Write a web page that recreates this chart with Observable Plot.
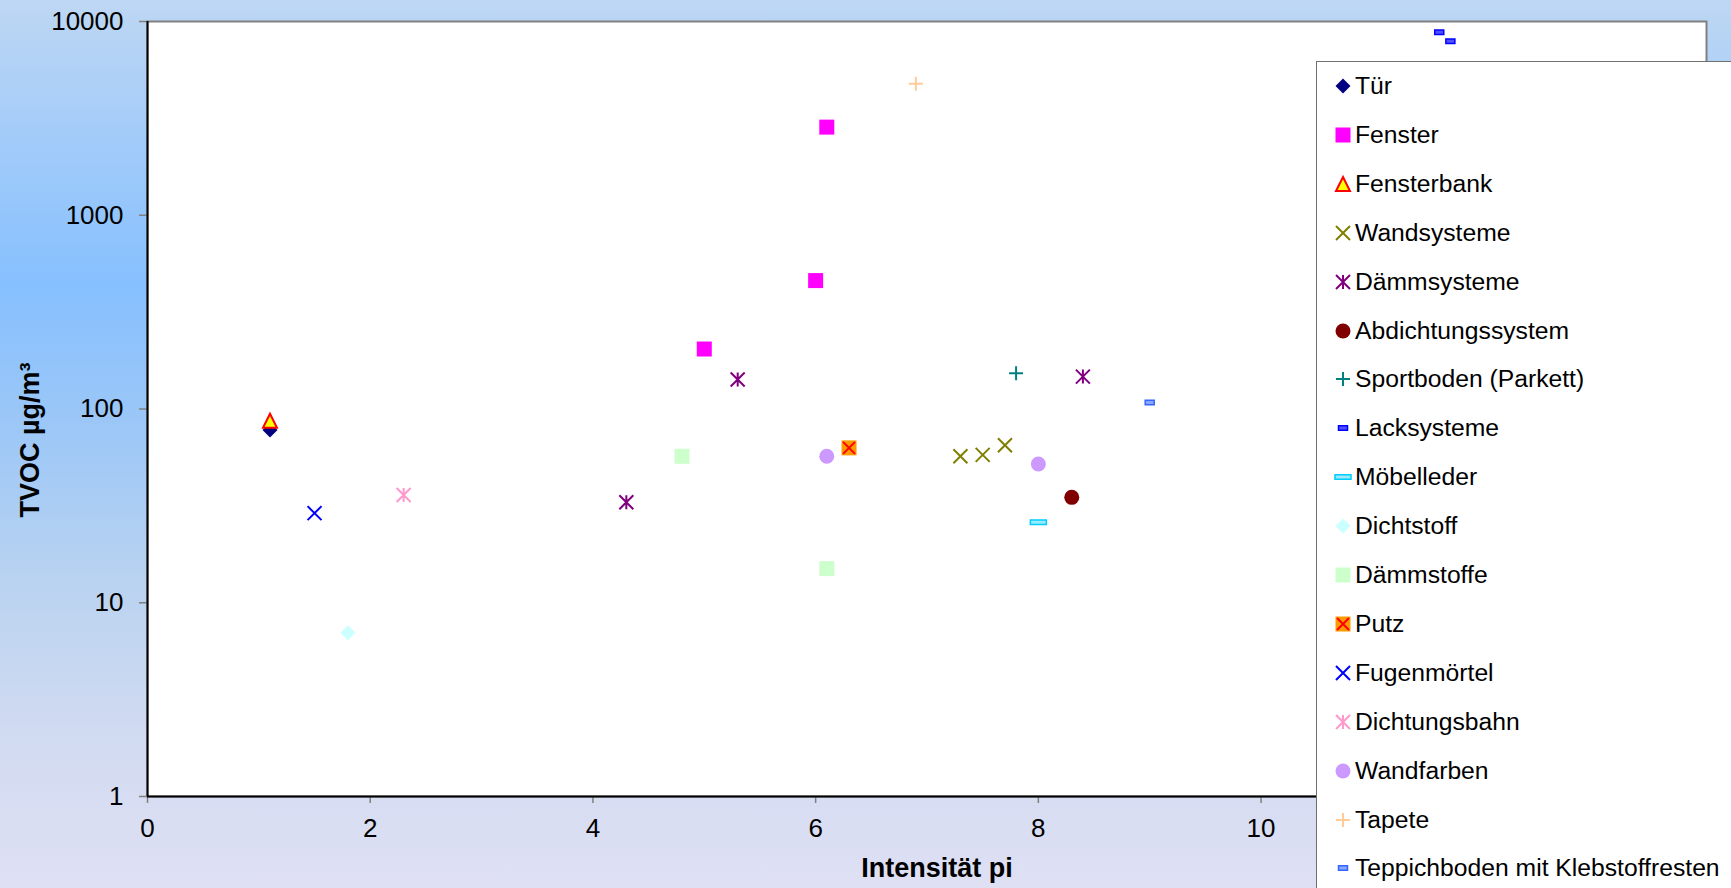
<!DOCTYPE html>
<html><head><meta charset="utf-8">
<script src="https://cdn.jsdelivr.net/npm/d3@7"></script>
<script src="https://cdn.jsdelivr.net/npm/@observablehq/plot@0.6"></script>
<style>
html,body{margin:0;padding:0;overflow:hidden;}
#wrap{position:relative;width:1731px;height:888px;overflow:hidden;
  background:linear-gradient(to bottom,#bed7f3 0%,#a2cbf9 16%,#86c0fe 32%,#9cc7f7 48%,#bad3f0 66%,#d0daf1 82%,#dfe0f4 100%);
  font-family:"Liberation Sans",Arial,sans-serif;}
#chart svg{display:block;overflow:visible;}
#legend{position:absolute;left:1316px;top:61px;width:480px;height:900px;background:#fff;border:1.5px solid #707070;box-sizing:border-box;}
.item{position:absolute;left:14px;height:30px;display:flex;align-items:center;font-size:24.7px;color:#000;white-space:nowrap;}
.item svg{display:block;margin-right:0px;}
</style></head>
<body>
<div id="wrap"><div id="chart"></div><div id="legend"></div></div>
<script>
// ---- data ----
const categories = ["Tür","Fenster","Fensterbank","Wandsysteme","Dämmsysteme","Abdichtungssystem",
  "Sportboden (Parkett)","Lacksysteme","Möbelleder","Dichtstoff","Dämmstoffe","Putz","Fugenmörtel",
  "Dichtungsbahn","Wandfarben","Tapete","Teppichboden mit Klebstoffresten"];
const xValues = [[1.1],[5.0,6.0,6.1],[1.1],[7.3,7.5,7.7],[4.3,5.3,8.4],[8.3],[7.8],[11.6,11.7],[8.0],[1.8],
  [4.8,6.1],[6.3],[1.5],[2.3],[6.1,8.0],[6.9],[9.0]];
const yValues = [[78],[204,460,2850],[87],[57,58,65],[33,142,147],[35],[153],[8800,7900],[26],[7],
  [57,15],[63],[29],[36],[57,52],[4770],[108]];
const xTicks = [0,2,4,6,8,10,12,14];
const yTicks = [1,10,100,1000,10000];
const xTitle = ["Intensität pi"];
const yTitle = ["TVOC µg/m³"];

// ---- symbols & styles ----
const R = s => Math.sqrt(s/Math.PI);
const SYM = {
  diamond:{draw(c,s){const r=R(s);c.moveTo(0,-r);c.lineTo(r,0);c.lineTo(0,r);c.lineTo(-r,0);c.closePath();}},
  square:{draw(c,s){const r=R(s);c.rect(-r,-r,2*r,2*r);}},
  triangle:{draw(c,s){const r=R(s);c.moveTo(0,-r);c.lineTo(r,r);c.lineTo(-r,r);c.closePath();}},
  times:{draw(c,s){const r=R(s);c.moveTo(-r,-r);c.lineTo(r,r);c.moveTo(r,-r);c.lineTo(-r,r);}},
  star:{draw(c,s){const r=R(s);c.moveTo(-r,-r);c.lineTo(r,r);c.moveTo(r,-r);c.lineTo(-r,r);c.moveTo(0,-r);c.lineTo(0,r);}},
  plus:{draw(c,s){const r=R(s);c.moveTo(-r,0);c.lineTo(r,0);c.moveTo(0,-r);c.lineTo(0,r);}},
  circle:{draw(c,s){const r=R(s);c.moveTo(r,0);c.arc(0,0,r,0,2*Math.PI);}},
  dash:{draw(c,s){const r=R(s);c.rect(-r,-r*0.5,2*r,r);}},
  longdash:{draw(c,s){const r=R(s);c.rect(-r,-r*0.28,2*r,r*0.56);}}
};
const styles = {
  "Tür":[{symbol:"diamond",r:7.5,fill:"#000080"}],
  "Fenster":[{symbol:"square",r:7.5,fill:"#ff00ff"}],
  "Fensterbank":[{symbol:"triangle",r:7,fill:"#ffff00",stroke:"#ff0000",sw:2}],
  "Wandsysteme":[{symbol:"times",r:7,stroke:"#808000",sw:2}],
  "Dämmsysteme":[{symbol:"star",r:7,stroke:"#800080",sw:2}],
  "Abdichtungssystem":[{symbol:"circle",r:7.5,fill:"#800000"}],
  "Sportboden (Parkett)":[{symbol:"plus",r:7,stroke:"#008080",sw:2}],
  "Lacksysteme":[{symbol:"dash",r:4.5,fill:"#5050ff",stroke:"#0000ff",sw:1.5}],
  "Möbelleder":[{symbol:"longdash",r:8,fill:"#99ebff",stroke:"#00ccff",sw:1.5}],
  "Dichtstoff":[{symbol:"diamond",r:7.5,fill:"#ccffff"}],
  "Dämmstoffe":[{symbol:"square",r:7.5,fill:"#ccffcc"}],
  "Putz":[{symbol:"square",r:7.5,fill:"#ff9900"},{symbol:"times",r:6,stroke:"#ff0000",sw:2}],
  "Fugenmörtel":[{symbol:"times",r:7,stroke:"#0000ff",sw:2}],
  "Dichtungsbahn":[{symbol:"star",r:7,stroke:"#ff99cc",sw:2}],
  "Wandfarben":[{symbol:"circle",r:7.5,fill:"#cc99ff"}],
  "Tapete":[{symbol:"plus",r:7,stroke:"#ffcc99",sw:2}],
  "Teppichboden mit Klebstoffresten":[{symbol:"dash",r:4.5,fill:"#8aa6ff",stroke:"#3366ff",sw:1.5}]
};

const dotMarks = [];
categories.forEach((cat,i)=>{
  const rows = xValues[i].map((x,j)=>({x, y:yValues[i][j]}));
  for (const st of styles[cat]) {
    dotMarks.push(Plot.dot(rows,{x:"x",y:"y",symbol:SYM[st.symbol],r:st.r,
      fill:st.fill||"none",stroke:st.stroke||"none",strokeWidth:st.sw||1}));
  }
});

const chart = Plot.plot({
  width:1731, height:888,
  marginLeft:147, marginRight:25, marginTop:21, marginBottom:92,
  style:{background:"transparent",fontFamily:"'Liberation Sans',Arial,sans-serif",color:"#000"},
  x:{type:"linear",domain:[0,14]},
  y:{type:"log",domain:[1,10000]},
  marks:[
    Plot.frame({fill:"#fff",stroke:"#808080",strokeWidth:2}),
    Plot.axisX({ticks:xTicks,tickFormat:d=>String(d),tickSize:7,tickPadding:15,fontSize:26,stroke:"#808080",strokeWidth:1.5,label:null}),
    Plot.axisY({ticks:yTicks,tickFormat:d=>String(d),tickSize:8,tickPadding:16,fontSize:26,stroke:"#808080",strokeWidth:1.5,label:null}),
    Plot.ruleX([0],{stroke:"#000",strokeWidth:2}),
    Plot.ruleY([1],{stroke:"#000",strokeWidth:2}),
    ...dotMarks,
    Plot.text(xTitle,{text:d=>d,frameAnchor:"bottom",lineAnchor:"middle",dy:72,dx:10,fontSize:27,fontWeight:"bold",fill:"#000"}),
    Plot.text(yTitle,{text:d=>d,frameAnchor:"left",textAnchor:"middle",lineAnchor:"middle",rotate:-90,dx:-117,dy:31,fontSize:27,fontWeight:"bold",fill:"#000"})
  ]
});
document.getElementById("chart").appendChild(chart);

// ---- legend ----
const legend = d3.select("#legend");
categories.forEach((cat,i)=>{
  const item = legend.append("div").attr("class","item").style("top",(24 + i*48.9 - 15)+"px");
  const svg = item.append("svg").attr("width",24).attr("height",24);
  const g = svg.append("g").attr("transform","translate(12,12)");
  for (const st of styles[cat]) {
    const p = d3.path();
    SYM[st.symbol].draw(p, Math.PI*st.r*st.r);
    g.append("path").attr("d",p.toString()).attr("fill",st.fill||"none")
      .attr("stroke",st.stroke||"none").attr("stroke-width",st.sw||1);
  }
  item.append("span").text(cat);
});
</script>
</body></html>
